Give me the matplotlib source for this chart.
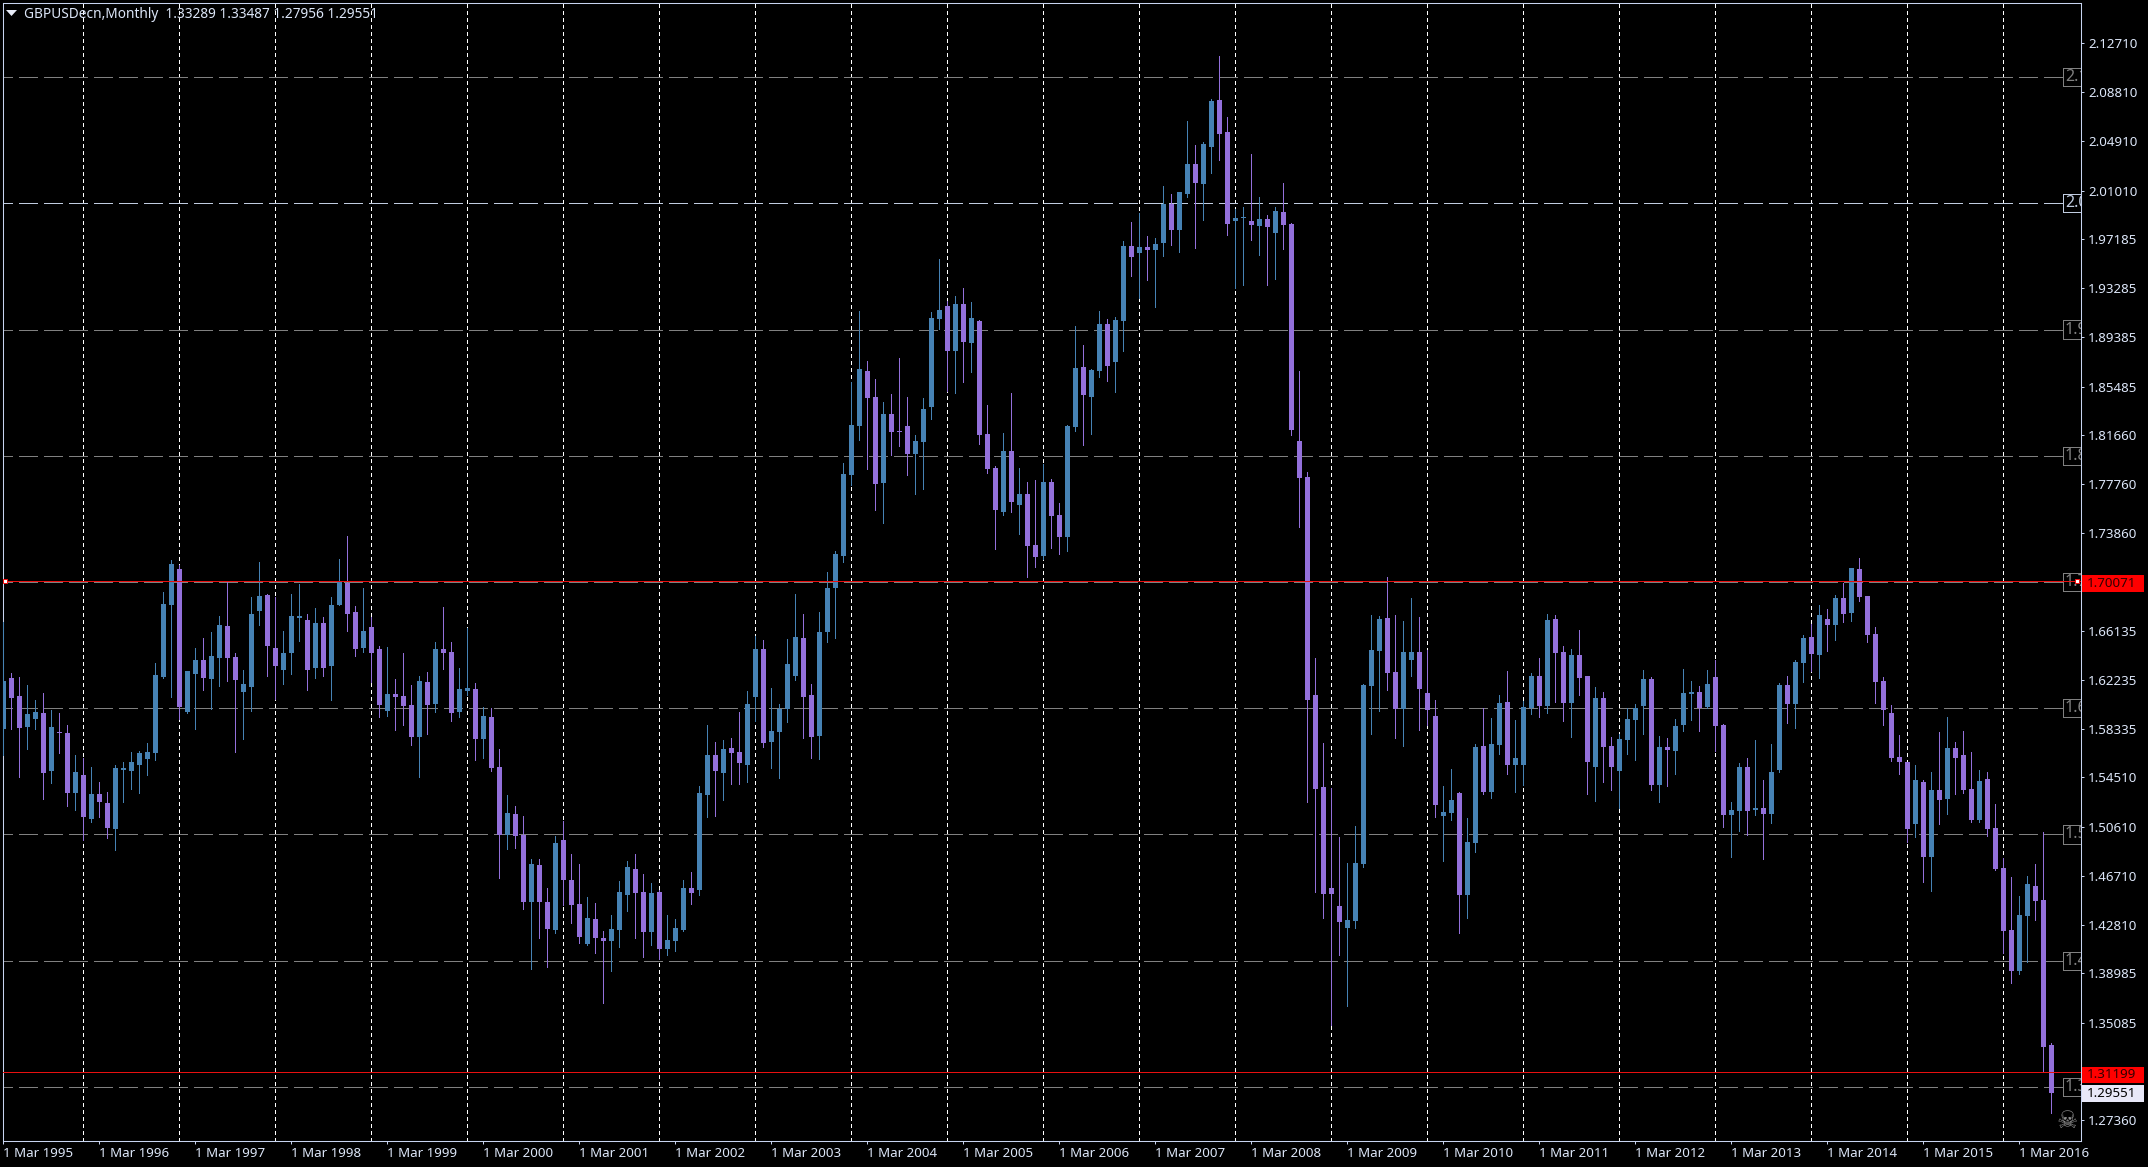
# GBPUSD monthly candles, dark terminal style
import matplotlib as mpl
mpl.use('Agg')
import matplotlib.pyplot as plt
from matplotlib.patches import Rectangle, Polygon

mpl.rcParams['lines.scale_dashes'] = False
mpl.rcParams['font.family'] = ['Noto Sans', 'DejaVu Sans']

# candle values, first candle is Mar 1995
opens = [
    1.5836, 1.6240, 1.6098, 1.5852, 1.5916, 1.5963, 1.5504, 1.5813, 1.5805, 1.5329,
    1.5472, 1.5124, 1.5322, 1.5250, 1.5044, 1.5512, 1.5504, 1.5551, 1.5599, 1.5646,
    1.6248, 1.6818, 1.7104, 1.5971, 1.6272, 1.6383, 1.6232, 1.6399, 1.6652, 1.6407,
    1.6129, 1.6169, 1.6771, 1.6898, 1.6478, 1.6304, 1.6438, 1.6715, 1.6700, 1.6319,
    1.6676, 1.6335, 1.6818, 1.6993, 1.6763, 1.6478, 1.6644, 1.6470, 1.5979, 1.6114,
    1.6098, 1.6026, 1.5773, 1.6209, 1.6034, 1.6470, 1.6446, 1.5971, 1.6137, 1.6153,
    1.5757, 1.5931, 1.5535, 1.4997, 1.5163, 1.4997, 1.4466, 1.4759, 1.4466, 1.4244,
    1.4957, 1.4640, 1.4450, 1.4134, 1.4332, 1.4181, 1.4157, 1.4244, 1.4522, 1.4728,
    1.4545, 1.4229, 1.4545, 1.4094, 1.4157, 1.4244, 1.4577, 1.4561, 1.5314, 1.5630,
    1.5488, 1.5686, 1.5654, 1.5551, 1.6090, 1.6470, 1.5733, 1.5813, 1.5995, 1.6256,
    1.6557, 1.6106, 1.5781, 1.6605, 1.6953, 1.7207, 1.7849, 1.8237, 1.8672, 1.8467,
    1.7785, 1.8332, 1.8197, 1.8237, 1.8015, 1.8110, 1.8387, 1.9084, 1.9187, 1.8831,
    1.9203, 1.8894, 1.9068, 1.8174, 1.7904, 1.7556, 1.8039, 1.7611, 1.7698, 1.7294,
    1.7207, 1.7793, 1.7532, 1.7358, 1.8229, 1.8704, 1.8467, 1.8672, 1.9045, 1.8744,
    1.9068, 1.9662, 1.9607, 1.9655, 1.9631, 1.9686, 1.9995, 1.9789, 2.0074, 2.0312,
    2.0154, 2.0447, 2.0819, 2.0565, 1.9860, 1.9884, 1.9860, 1.9821, 1.9876, 1.9765,
    1.9932, 1.9837, 1.8118, 1.7833, 1.6105, 1.5377, 1.4577, 1.4434, 1.4260, 1.4315,
    1.4767, 1.6177, 1.6454, 1.6715, 1.6288, 1.5995, 1.6383, 1.6446, 1.6121, 1.5939,
    1.5147, 1.5171, 1.5329, 1.4521, 1.4933, 1.5701, 1.5337, 1.5709, 1.6050, 1.5551,
    1.5551, 1.6002, 1.6256, 1.6018, 1.6707, 1.6446, 1.6042, 1.6422, 1.6256, 1.5535,
    1.6082, 1.5701, 1.5503, 1.5749, 1.5907, 1.6018, 1.6232, 1.5393, 1.5694, 1.5662,
    1.5868, 1.6113, 1.6129, 1.6010, 1.6248, 1.5868, 1.5155, 1.5187, 1.5535, 1.5195,
    1.5209, 1.5162, 1.5510, 1.6185, 1.6033, 1.6357, 1.6563, 1.6420, 1.6705, 1.6658,
    1.6873, 1.6753, 1.7102, 1.6889, 1.6588, 1.6214, 1.5960, 1.5612, 1.5574, 1.5082,
    1.5415, 1.4819, 1.5352, 1.5279, 1.5685, 1.5628, 1.5358, 1.5114, 1.5437, 1.5051,
    1.4734, 1.4242, 1.3916, 1.4353, 1.4591, 1.4480, 1.33289,
]
highs = [
    1.6684, 1.6280, 1.6248, 1.6185, 1.6066, 1.6121, 1.5987, 1.5963, 1.5868, 1.5630,
    1.5607, 1.5535, 1.5417, 1.5337, 1.5551, 1.5575, 1.5654, 1.5662, 1.5725, 1.6359,
    1.6921, 1.7175, 1.7135, 1.6296, 1.6478, 1.6557, 1.6605, 1.6731, 1.7001, 1.6438,
    1.6304, 1.6882, 1.7159, 1.6906, 1.6882, 1.6612, 1.6906, 1.6985, 1.6747, 1.6795,
    1.6723, 1.6882, 1.7183, 1.7365, 1.6810, 1.6953, 1.6723, 1.6494, 1.6486, 1.6232,
    1.6438, 1.6185, 1.6256, 1.6288, 1.6525, 1.6803, 1.6525, 1.6319, 1.6636, 1.6201,
    1.6011, 1.6003, 1.5678, 1.5314, 1.5226, 1.5147, 1.4807, 1.4807, 1.4577, 1.4989,
    1.5108, 1.4846, 1.4767, 1.4506, 1.4458, 1.4236, 1.4363, 1.4632, 1.4791, 1.4846,
    1.4688, 1.4617, 1.4561, 1.4363, 1.4332, 1.4640, 1.4704, 1.5385, 1.5868, 1.5733,
    1.5749, 1.5765, 1.5971, 1.6137, 1.6573, 1.6541, 1.6161, 1.6034, 1.6549, 1.6906,
    1.6747, 1.6193, 1.6763, 1.7080, 1.7246, 1.7941, 1.8585, 1.9148, 1.8752, 1.8609,
    1.8427, 1.8490, 1.8775, 1.8467, 1.8166, 1.8459, 1.9140, 1.9560, 1.9227, 1.9266,
    1.9330, 1.9219, 1.9076, 1.8403, 1.7920, 1.8181, 1.8498, 1.7904, 1.7793, 1.7809,
    1.7936, 1.7817, 1.7627, 1.8245, 1.9029, 1.8878, 1.8688, 1.9148, 1.9084, 1.9100,
    1.9702, 1.9853, 1.9924, 1.9742, 1.9726, 2.0138, 2.0074, 2.0090, 2.0652, 2.0462,
    2.0486, 2.0827, 2.1167, 2.0684, 1.9956, 1.9971, 2.0391, 2.0051, 1.9908, 1.9971,
    2.0161, 1.9845, 1.8672, 1.7873, 1.6398, 1.5725, 1.5369, 1.4981, 1.4775, 1.5068,
    1.6193, 1.6739, 1.6731, 1.7040, 1.6739, 1.6691, 1.6874, 1.6723, 1.6462, 1.6066,
    1.5385, 1.5519, 1.5337, 1.5131, 1.5717, 1.6002, 1.5923, 1.6105, 1.6295, 1.5907,
    1.6058, 1.6280, 1.6398, 1.6747, 1.6739, 1.6493, 1.6470, 1.6620, 1.6256, 1.6169,
    1.6129, 1.5773, 1.5797, 1.6002, 1.6034, 1.6303, 1.6248, 1.5781, 1.5765, 1.5915,
    1.6311, 1.6216, 1.6177, 1.6303, 1.6383, 1.5876, 1.5258, 1.5567, 1.5606, 1.5749,
    1.5431, 1.5716, 1.6198, 1.6255, 1.6382, 1.6579, 1.6667, 1.6816, 1.6785, 1.6896,
    1.6994, 1.7111, 1.7190, 1.6889, 1.6642, 1.6246, 1.6024, 1.5786, 1.5574, 1.5548,
    1.5431, 1.5494, 1.5811, 1.5929, 1.5732, 1.5818, 1.5653, 1.5510, 1.5494, 1.5241,
    1.4813, 1.4661, 1.4512, 1.4670, 1.4765, 1.5019, 1.33487,
]
lows = [
    1.5630, 1.5836, 1.5456, 1.5678, 1.5836, 1.5282, 1.5409, 1.5646, 1.5226, 1.5195,
    1.4957, 1.5100, 1.5139, 1.4973, 1.4878, 1.5258, 1.5361, 1.5329, 1.5472, 1.5591,
    1.6240, 1.6090, 1.5916, 1.5963, 1.5836, 1.6145, 1.5995, 1.6177, 1.6216, 1.5654,
    1.5757, 1.5979, 1.6660, 1.6256, 1.6074, 1.6193, 1.6272, 1.6533, 1.6145, 1.6240,
    1.6256, 1.6066, 1.6818, 1.6612, 1.6414, 1.6446, 1.6209, 1.5931, 1.5939, 1.5828,
    1.5868, 1.5710, 1.5456, 1.5797, 1.5971, 1.6312, 1.5900, 1.5931, 1.6106, 1.5591,
    1.5607, 1.5504, 1.4656, 1.4886, 1.4894, 1.4411, 1.3936, 1.4181, 1.3951, 1.4221,
    1.4442, 1.4300, 1.4141, 1.4126, 1.4062, 1.3666, 1.3920, 1.4110, 1.4395, 1.4181,
    1.4031, 1.4126, 1.4015, 1.4046, 1.4078, 1.4236, 1.4450, 1.4522, 1.5139, 1.5147,
    1.5274, 1.5401, 1.5401, 1.5417, 1.5900, 1.5694, 1.5527, 1.5448, 1.5892, 1.6224,
    1.5765, 1.5607, 1.5599, 1.6525, 1.6557, 1.7160, 1.7770, 1.8126, 1.7896, 1.7572,
    1.7469, 1.8007, 1.8078, 1.7849, 1.7698, 1.7738, 1.8292, 1.9005, 1.8514, 1.8498,
    1.8585, 1.8665, 1.8094, 1.7865, 1.7263, 1.7532, 1.7556, 1.7382, 1.7041, 1.7120,
    1.7184, 1.7271, 1.7223, 1.7247, 1.8197, 1.8086, 1.8174, 1.8625, 1.8593, 1.8506,
    1.8831, 1.9425, 1.9251, 1.9393, 1.9179, 1.9583, 1.9670, 1.9615, 2.0051, 1.9647,
    1.9868, 2.0241, 2.0344, 1.9750, 1.9330, 1.9354, 1.9710, 1.9591, 1.9354, 1.9401,
    1.9639, 1.8166, 1.7437, 1.5258, 1.4545, 1.4339, 1.3492, 1.4046, 1.3642, 1.4260,
    1.4743, 1.5797, 1.5979, 1.6145, 1.5765, 1.5701, 1.6256, 1.5828, 1.5868, 1.5139,
    1.4791, 1.5115, 1.4220, 1.4339, 1.4862, 1.5321, 1.5290, 1.5638, 1.5480, 1.5337,
    1.5393, 1.5955, 1.5931, 1.5963, 1.6050, 1.5899, 1.5773, 1.6105, 1.5321, 1.5266,
    1.5416, 1.5353, 1.5210, 1.5638, 1.5591, 1.5797, 1.5353, 1.5258, 1.5385, 1.5480,
    1.5820, 1.5907, 1.5820, 1.6002, 1.5662, 1.5060, 1.4822, 1.5028, 1.4997, 1.5155,
    1.4803, 1.5089, 1.5494, 1.5881, 1.5843, 1.6208, 1.6293, 1.6239, 1.6452, 1.6540,
    1.6683, 1.6689, 1.6848, 1.6525, 1.6040, 1.5865, 1.5580, 1.5479, 1.4940, 1.4978,
    1.4623, 1.4550, 1.5082, 1.5162, 1.5320, 1.5326, 1.5098, 1.5098, 1.4987, 1.4718,
    1.4058, 1.3821, 1.3894, 1.3989, 1.4321, 1.3117, 1.27956,
]
closes = [
    1.6216, 1.6082, 1.5844, 1.5955, 1.5971, 1.5488, 1.5852, 1.5805, 1.5329, 1.5496,
    1.5139, 1.5322, 1.5258, 1.5052, 1.5527, 1.5527, 1.5575, 1.5646, 1.5654, 1.6264,
    1.6826, 1.7143, 1.6011, 1.6296, 1.6383, 1.6240, 1.6414, 1.6660, 1.6399, 1.6224,
    1.6193, 1.6747, 1.6890, 1.6494, 1.6335, 1.6438, 1.6731, 1.6731, 1.6304, 1.6676,
    1.6319, 1.6818, 1.7001, 1.6747, 1.6470, 1.6612, 1.6438, 1.6026, 1.6114, 1.6090,
    1.6018, 1.5773, 1.6216, 1.6026, 1.6470, 1.6438, 1.5963, 1.6153, 1.6161, 1.5757,
    1.5939, 1.5527, 1.4997, 1.5171, 1.4989, 1.4466, 1.4767, 1.4466, 1.4252, 1.4933,
    1.4640, 1.4442, 1.4189, 1.4339, 1.4181, 1.4157, 1.4252, 1.4545, 1.4743, 1.4537,
    1.4229, 1.4537, 1.4094, 1.4165, 1.4260, 1.4577, 1.4537, 1.5329, 1.5630, 1.5504,
    1.5678, 1.5646, 1.5567, 1.6034, 1.6470, 1.5725, 1.5820, 1.5995, 1.6351, 1.6565,
    1.6090, 1.5773, 1.6605, 1.6953, 1.7222, 1.7857, 1.8245, 1.8688, 1.8459, 1.7778,
    1.8332, 1.8189, 1.8189, 1.8015, 1.8118, 1.8372, 1.9092, 1.9156, 1.8831, 1.9203,
    1.8902, 1.9092, 1.8166, 1.7896, 1.7572, 1.8039, 1.7635, 1.7698, 1.7286, 1.7199,
    1.7793, 1.7524, 1.7358, 1.8237, 1.8696, 1.8482, 1.8680, 1.9045, 1.8712, 1.9076,
    1.9662, 1.9575, 1.9655, 1.9631, 1.9678, 1.9995, 1.9789, 2.0090, 2.0312, 2.0161,
    2.0470, 2.0811, 2.0550, 1.9837, 1.9884, 1.9892, 1.9829, 1.9876, 1.9813, 1.9940,
    1.9829, 1.8205, 1.7825, 1.6066, 1.5361, 1.4529, 1.4529, 1.4308, 1.4323, 1.4775,
    1.6185, 1.6462, 1.6707, 1.6280, 1.5995, 1.6446, 1.6446, 1.6153, 1.5987, 1.5234,
    1.5179, 1.5274, 1.4521, 1.4941, 1.5694, 1.5337, 1.5717, 1.6042, 1.5551, 1.5606,
    1.6010, 1.6256, 1.6018, 1.6699, 1.6438, 1.6042, 1.6422, 1.6240, 1.5575, 1.6082,
    1.5694, 1.5535, 1.5757, 1.5915, 1.6002, 1.6232, 1.5393, 1.5694, 1.5670, 1.5860,
    1.6121, 1.6129, 1.6002, 1.6193, 1.5860, 1.5155, 1.5195, 1.5535, 1.5187, 1.5210,
    1.5162, 1.5494, 1.6185, 1.6033, 1.6366, 1.6556, 1.6430, 1.6737, 1.6658, 1.6873,
    1.6747, 1.7111, 1.6880, 1.6579, 1.6208, 1.5986, 1.5605, 1.5574, 1.5041, 1.5431,
    1.4819, 1.5352, 1.5272, 1.5685, 1.5605, 1.5352, 1.5114, 1.5421, 1.5041, 1.4724,
    1.4233, 1.3916, 1.4360, 1.4607, 1.4470, 1.3313, 1.29551,
]

price_ticks = [2.12710, 2.08810, 2.04910, 2.01010, 1.97185, 1.93285, 1.89385, 1.85485, 1.81660, 1.77760, 1.73860,
               1.66135, 1.62235, 1.58335, 1.54510, 1.50610, 1.46710, 1.42810, 1.38985, 1.35085, 1.27360]
years = list(range(1995, 2017))
round_levels = [2.1, 2.0, 1.9, 1.8, 1.7, 1.6, 1.5, 1.4, 1.3]
red_levels = [1.70071, 1.31199]
last_close = 1.29551

W, H = 2148, 1167
FRAME = '#C8D4F0'
UP = '#4682B4'
DOWN = '#9370DB'
GRID = '#808080'

fig = plt.figure(figsize=(W / 100, H / 100), dpi=100, facecolor='black')
ax = fig.add_axes([2.5 / W, 1 - 1140.5 / H, 2078 / W, 1138 / H], facecolor='black')
ax.set_xlim(-0.11, 259.64)
ax.set_ylim(1.2575, 2.1591)


# figure pixel helper for the bits outside the price scale
def px(x, y):
    return x / W, 1 - y / H


# month grid in January
for i in range(10, 257, 12):
    ax.axvline(i, color='white', lw=0.72, ls=(0, (2.16, 2.16)), antialiased=False, zorder=1)

# round price levels with clipped labels at the right
for lv in round_levels:
    c = '#C0CCE0' if lv == 2.0 else GRID
    ax.plot([0.0005, 0.9917], [lv, lv], transform=ax.get_yaxis_transform(), color=c, lw=0.72,
            ls=(7.2, (12.96, 4.32)), antialiased=False, zorder=1)
    ax.add_patch(Rectangle((0.9917, lv - 0.0072), 0.0083, 0.0144, transform=ax.get_yaxis_transform(),
                           fill=False, ec=c, lw=0.72, antialiased=False, zorder=2))
    ax.text(0.9925, lv, '%.1f' % lv, transform=ax.get_yaxis_transform(), color=c, fontsize=11.5,
            va='center', ha='left', clip_on=True, zorder=2)

# candles
for i in range(len(opens)):
    c = UP if closes[i] >= opens[i] else DOWN
    ax.vlines(i, lows[i], highs[i], color=c, lw=0.72, antialiased=False, zorder=3)
    ax.bar(i, abs(closes[i] - opens[i]), bottom=min(opens[i], closes[i]), width=0.62, color=c,
           lw=0, antialiased=False, zorder=3)

# horizontal red lines on top
for lv in red_levels:
    ax.axhline(lv, color='#E81010', lw=0.72, antialiased=False, zorder=4)
ax.plot([0.0012, 0.9985], [red_levels[0], red_levels[0]], transform=ax.get_yaxis_transform(), ls='none',
        marker='s', ms=3.2, mfc='white', mec='#F01010', mew=0.72, zorder=5)

# axis ticks and labels
for s in ax.spines.values():
    s.set_color(FRAME)
    s.set_linewidth(0.75)
ax.yaxis.tick_right()
ax.set_yticks(price_ticks)
ax.set_yticklabels(['%.5f' % p for p in price_ticks])
ax.set_xticks([12 * k for k in range(len(years))])
ax.set_xticklabels(['1 Mar %d' % y for y in years], ha='left')
ax.tick_params(axis='both', colors='#DCE6F8', labelsize=9.6, length=2.5, width=0.72, color=FRAME)
ax.tick_params(axis='x', pad=2.2)
ax.tick_params(axis='y', pad=3)

# price flags on the right
flags = [(1.70071, 575, 592, '#FF0000', '#300000'), (1.31199, 1067, 1083, '#FF0000', '#300000'),
         (last_close, 1085, 1102, '#E8E8F8', 'black')]
for val, y0, y1, bg, fg in flags:
    x0, yb = px(2082, y1)
    x1, yt = px(2144, y0)
    fig.add_artist(Rectangle((x0, yb), x1 - x0, yt - yb, transform=fig.transFigure, fc=bg, ec='none'))
    fig.text(*px(2087, (y0 + y1) / 2), '%.5f' % val, color=fg, fontsize=9.6, va='center', ha='left')

# header
fig.add_artist(Polygon([px(6, 10), px(17, 10), px(11.5, 16)], transform=fig.transFigure, fc='#E8ECF8', ec='none'))
fig.text(*px(24, 14.5), 'GBPUSDecn,Monthly  1.33289 1.33487 1.27956 1.29551', color='#DCE6F8', fontsize=9.85,
         va='center', ha='left')

# skull mark for the expert
fig.text(*px(2067, 1121), '\u2620', color='#909090', fontsize=17, va='center', ha='center', family='DejaVu Sans')

fig.savefig('out.png', dpi=100, facecolor='black')
